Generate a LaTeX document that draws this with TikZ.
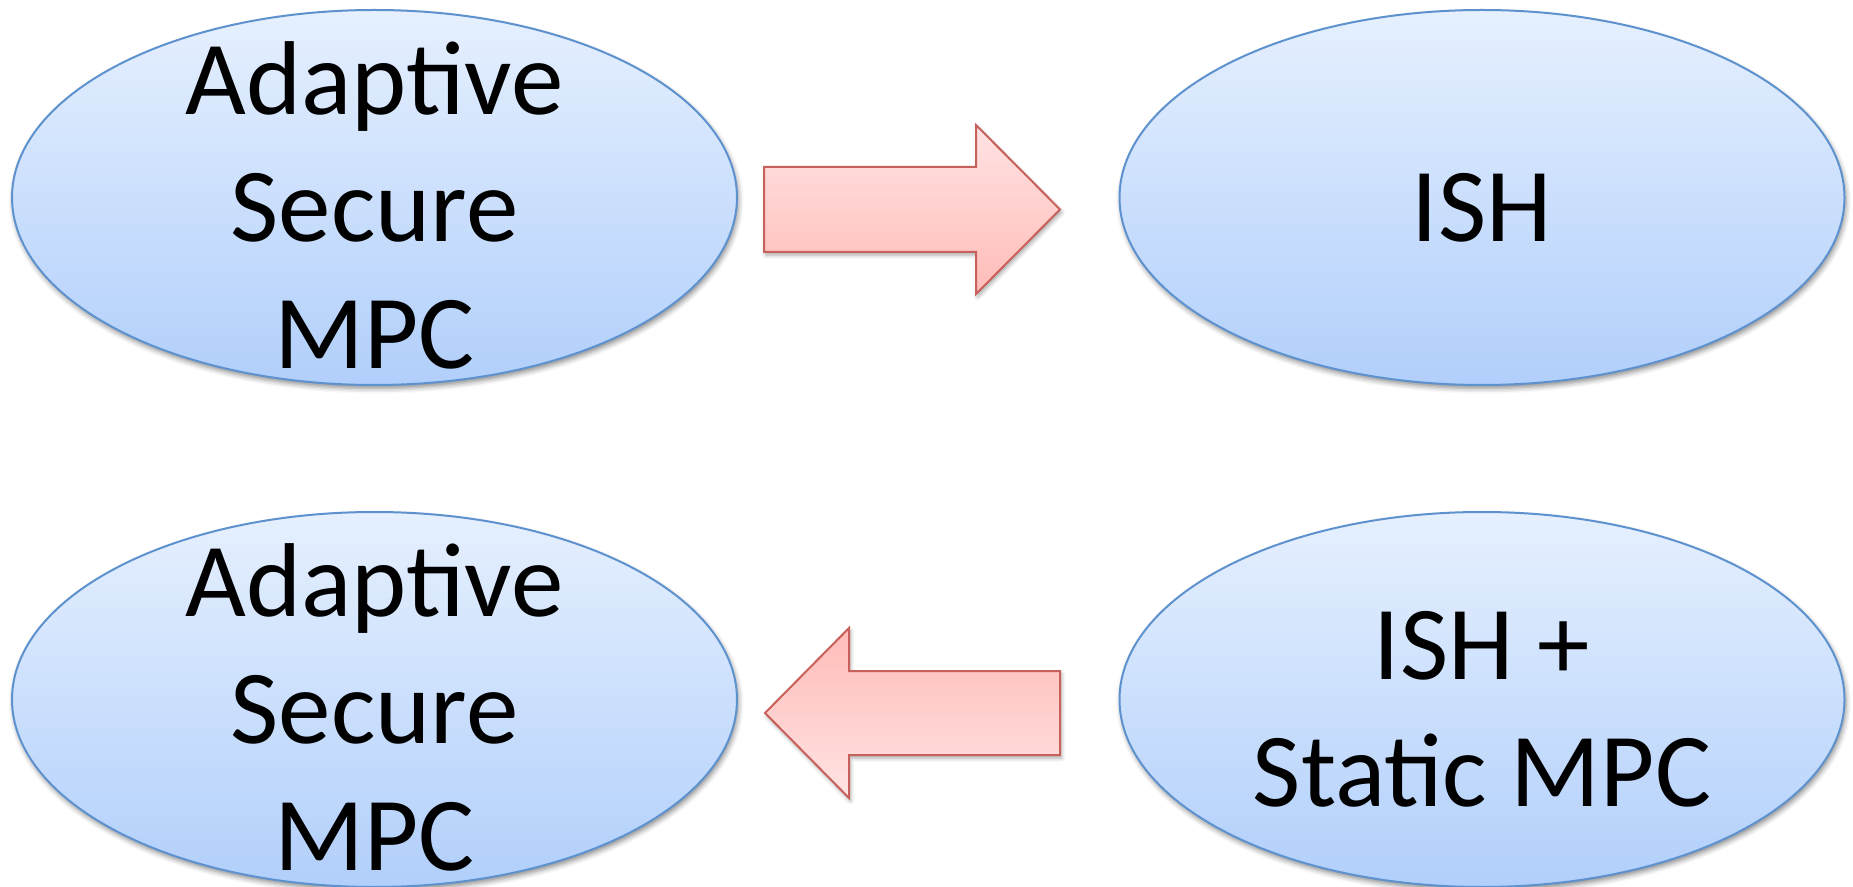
\documentclass[tikz,border=0pt]{standalone}
\usepackage{fontspec}
\setmainfont{Carlito}
\usetikzlibrary{shapes.geometric,shadows.blur}

\definecolor{bubbleTop}{HTML}{E6F0FE}
\definecolor{bubbleBot}{HTML}{B1CFFB}
\definecolor{bubbleLine}{HTML}{5E92CE}
\definecolor{arrowLight}{HTML}{FFE3E3}
\definecolor{arrowDark}{HTML}{FFBCB8}
\definecolor{arrowLine}{HTML}{C8605C}

\begin{document}
\begin{tikzpicture}[x=0.5pt,y=-0.5pt,
  bubble/.style={ellipse, draw=bubbleLine, line width=1pt,
    top color=bubbleTop, bottom color=bubbleBot,
    minimum width=362.5pt, minimum height=187.5pt, inner sep=0pt,
    blur shadow={shadow xshift=0.8pt, shadow yshift=-1.8pt,
      shadow blur radius=2.5pt, shadow opacity=45}},
  bubbletext/.style={align=center, inner sep=0pt,
    font=\fontsize{52.5pt}{63.5pt}\selectfont},
  blockarrow/.style={draw=arrowLine, line width=1pt, line join=miter,
    blur shadow={shadow xshift=0.8pt, shadow yshift=-1.5pt,
      shadow blur radius=2pt, shadow opacity=35}}]

\useasboundingbox (0,0) rectangle (1853,887);

% the four ellipses
\node[bubble] (tl) at (374.5,197.5) {};
\node[bubble] (tr) at (1482,197.5) {};
\node[bubble] (bl) at (374.5,699.5) {};
\node[bubble] (br) at (1482,699.5) {};

% their texts
\node[bubbletext] (tlText) at ([yshift=-3.75pt]tl.center) {Adaptive\\Secure\\MPC};
\node[bubbletext] (trText) at ([yshift=-5pt]tr.center) {ISH};
\node[bubbletext] (blText) at ([yshift=-3.75pt]bl.center) {Adaptive\\Secure\\MPC};
\node[bubbletext] (brText) at ([yshift=-5pt]br.center) {ISH +\\Static MPC};

% block arrow pointing right, between the upper ellipses
\draw[blockarrow, top color=arrowLight, bottom color=arrowDark]
  (764,167) -- (976,167) -- (976,125) -- (1060,209.5) -- (976,294)
  -- (976,252) -- (764,252) -- cycle;

% block arrow pointing left, between the lower ellipses
\draw[blockarrow, top color=arrowDark, bottom color=arrowLight]
  (1060,671) -- (849,671) -- (849,628) -- (765,713) -- (849,798)
  -- (849,755) -- (1060,755) -- cycle;

\end{tikzpicture}
\end{document}
